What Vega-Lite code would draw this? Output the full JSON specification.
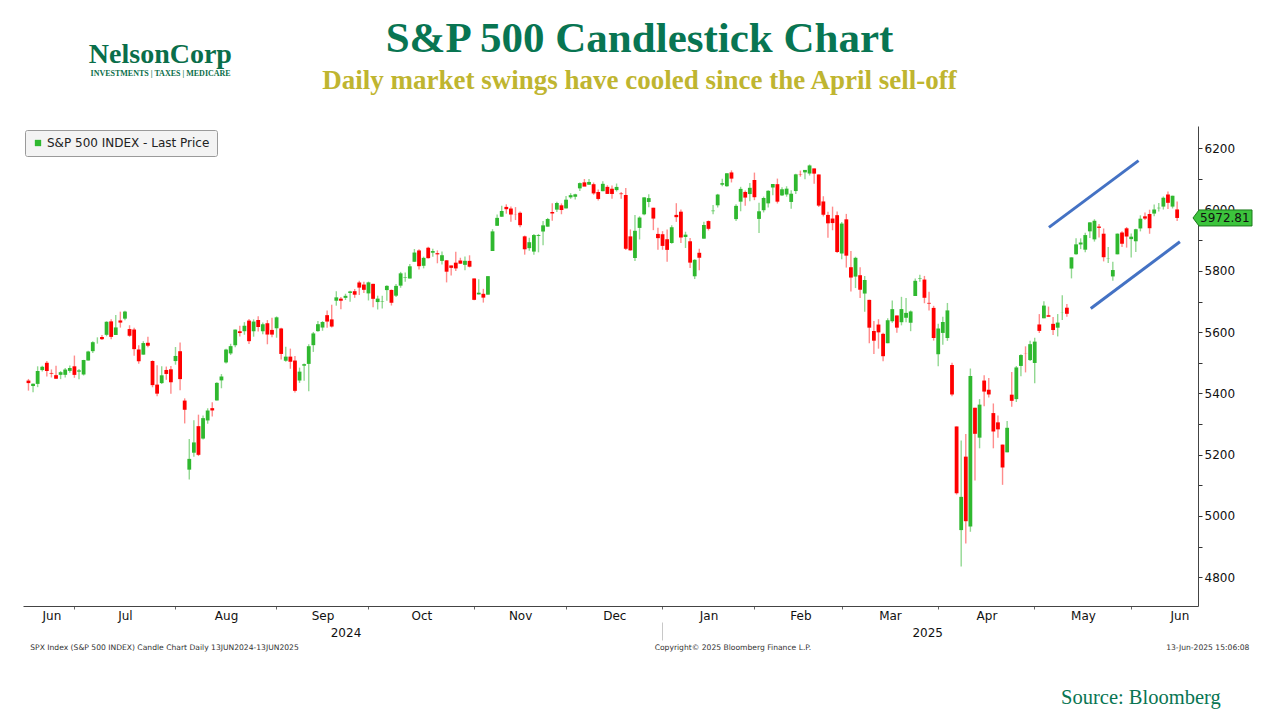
{
  "$schema": "https://vega.github.io/schema/vega-lite/v6.json",
  "autosize": {"type": "none"},
  "width": 1175,
  "height": 480,
  "padding": {"left": 23, "top": 126, "right": 82, "bottom": 114},
  "background": "white",
  "title": {
    "text": "S&P 500 Candlestick Chart",
    "subtitle": "Daily market swings have cooled since the April sell-off",
    "anchor": "middle",
    "dx": 29,
    "dy": 54,
    "offset": 0,
    "font": "Liberation Serif",
    "fontSize": 43,
    "fontWeight": "bold",
    "color": "#087552",
    "subtitleFont": "Liberation Serif",
    "subtitleFontSize": 27,
    "subtitleFontWeight": "bold",
    "subtitleColor": "#bfb530",
    "subtitlePadding": 7
  },
  "datasets": {
    "candles": [
      {"d": "2024-06-13", "i": 0, "o": 5441.9, "h": 5447.3, "l": 5409.1, "c": 5433.7},
      {"d": "2024-06-14", "i": 1, "o": 5424.1, "h": 5432.4, "l": 5403.8, "c": 5431.6},
      {"d": "2024-06-17", "i": 2, "o": 5431.1, "h": 5488.5, "l": 5420.4, "c": 5473.2},
      {"d": "2024-06-18", "i": 3, "o": 5476.2, "h": 5490.4, "l": 5471.3, "c": 5487.0},
      {"d": "2024-06-20", "i": 4, "o": 5500.0, "h": 5505.5, "l": 5455.6, "c": 5473.2},
      {"d": "2024-06-21", "i": 5, "o": 5466.8, "h": 5478.3, "l": 5452.0, "c": 5464.6},
      {"d": "2024-06-24", "i": 6, "o": 5459.6, "h": 5490.7, "l": 5447.6, "c": 5447.9},
      {"d": "2024-06-25", "i": 7, "o": 5460.7, "h": 5472.9, "l": 5446.6, "c": 5469.3},
      {"d": "2024-06-26", "i": 8, "o": 5460.7, "h": 5483.1, "l": 5451.9, "c": 5477.9},
      {"d": "2024-06-27", "i": 9, "o": 5473.6, "h": 5490.8, "l": 5467.5, "c": 5482.9},
      {"d": "2024-06-28", "i": 10, "o": 5488.5, "h": 5523.6, "l": 5451.1, "c": 5460.5},
      {"d": "2024-07-01", "i": 11, "o": 5471.1, "h": 5479.6, "l": 5446.5, "c": 5475.1},
      {"d": "2024-07-02", "i": 12, "o": 5461.8, "h": 5509.7, "l": 5458.4, "c": 5509.0},
      {"d": "2024-07-03", "i": 13, "o": 5507.4, "h": 5539.3, "l": 5507.4, "c": 5537.0},
      {"d": "2024-07-05", "i": 14, "o": 5537.9, "h": 5570.3, "l": 5531.6, "c": 5567.2},
      {"d": "2024-07-08", "i": 15, "o": 5572.8, "h": 5583.1, "l": 5562.5, "c": 5572.9},
      {"d": "2024-07-09", "i": 16, "o": 5584.2, "h": 5590.8, "l": 5574.6, "c": 5577.0},
      {"d": "2024-07-10", "i": 17, "o": 5591.3, "h": 5635.4, "l": 5586.4, "c": 5633.9},
      {"d": "2024-07-11", "i": 18, "o": 5635.2, "h": 5642.5, "l": 5576.5, "c": 5584.5},
      {"d": "2024-07-12", "i": 19, "o": 5590.8, "h": 5655.6, "l": 5590.4, "c": 5615.4},
      {"d": "2024-07-15", "i": 20, "o": 5638.2, "h": 5666.9, "l": 5614.8, "c": 5631.2},
      {"d": "2024-07-16", "i": 21, "o": 5644.1, "h": 5669.7, "l": 5639.0, "c": 5667.2},
      {"d": "2024-07-17", "i": 22, "o": 5610.1, "h": 5622.5, "l": 5584.8, "c": 5588.3},
      {"d": "2024-07-18", "i": 23, "o": 5608.6, "h": 5614.1, "l": 5522.8, "c": 5544.6},
      {"d": "2024-07-19", "i": 24, "o": 5543.4, "h": 5557.5, "l": 5497.0, "c": 5505.0},
      {"d": "2024-07-22", "i": 25, "o": 5526.6, "h": 5570.4, "l": 5526.6, "c": 5564.4},
      {"d": "2024-07-23", "i": 26, "o": 5565.3, "h": 5585.3, "l": 5550.9, "c": 5555.7},
      {"d": "2024-07-24", "i": 27, "o": 5505.8, "h": 5508.0, "l": 5420.0, "c": 5427.1},
      {"d": "2024-07-25", "i": 28, "o": 5428.7, "h": 5491.6, "l": 5391.0, "c": 5399.2},
      {"d": "2024-07-26", "i": 29, "o": 5433.7, "h": 5488.3, "l": 5430.7, "c": 5459.1},
      {"d": "2024-07-29", "i": 30, "o": 5476.6, "h": 5487.7, "l": 5444.4, "c": 5463.5},
      {"d": "2024-07-30", "i": 31, "o": 5478.7, "h": 5489.5, "l": 5398.9, "c": 5436.4},
      {"d": "2024-07-31", "i": 32, "o": 5505.6, "h": 5551.5, "l": 5493.8, "c": 5522.3},
      {"d": "2024-08-01", "i": 33, "o": 5537.8, "h": 5566.2, "l": 5410.4, "c": 5446.7},
      {"d": "2024-08-02", "i": 34, "o": 5376.6, "h": 5383.9, "l": 5302.0, "c": 5346.6},
      {"d": "2024-08-05", "i": 35, "o": 5151.1, "h": 5250.9, "l": 5119.3, "c": 5186.3},
      {"d": "2024-08-06", "i": 36, "o": 5206.4, "h": 5312.3, "l": 5193.6, "c": 5240.0},
      {"d": "2024-08-07", "i": 37, "o": 5293.1, "h": 5330.6, "l": 5195.5, "c": 5199.5},
      {"d": "2024-08-08", "i": 38, "o": 5252.6, "h": 5328.0, "l": 5249.4, "c": 5319.3},
      {"d": "2024-08-09", "i": 39, "o": 5311.8, "h": 5351.4, "l": 5300.9, "c": 5344.2},
      {"d": "2024-08-12", "i": 40, "o": 5351.9, "h": 5371.2, "l": 5324.4, "c": 5344.4},
      {"d": "2024-08-13", "i": 41, "o": 5377.0, "h": 5436.5, "l": 5377.0, "c": 5434.4},
      {"d": "2024-08-14", "i": 42, "o": 5442.5, "h": 5463.2, "l": 5416.8, "c": 5455.2},
      {"d": "2024-08-15", "i": 43, "o": 5501.1, "h": 5546.2, "l": 5497.8, "c": 5543.2},
      {"d": "2024-08-16", "i": 44, "o": 5530.5, "h": 5562.0, "l": 5525.2, "c": 5554.3},
      {"d": "2024-08-19", "i": 45, "o": 5557.2, "h": 5608.3, "l": 5550.7, "c": 5608.3},
      {"d": "2024-08-20", "i": 46, "o": 5602.9, "h": 5620.5, "l": 5585.5, "c": 5597.1},
      {"d": "2024-08-21", "i": 47, "o": 5603.1, "h": 5632.7, "l": 5591.6, "c": 5620.9},
      {"d": "2024-08-22", "i": 48, "o": 5637.8, "h": 5643.2, "l": 5561.0, "c": 5570.6},
      {"d": "2024-08-23", "i": 49, "o": 5602.9, "h": 5641.8, "l": 5585.2, "c": 5634.6},
      {"d": "2024-08-26", "i": 50, "o": 5639.7, "h": 5651.6, "l": 5602.3, "c": 5616.8},
      {"d": "2024-08-27", "i": 51, "o": 5602.9, "h": 5631.2, "l": 5593.5, "c": 5625.8},
      {"d": "2024-08-28", "i": 52, "o": 5629.1, "h": 5639.4, "l": 5560.4, "c": 5592.2},
      {"d": "2024-08-29", "i": 53, "o": 5607.3, "h": 5647.0, "l": 5583.7, "c": 5592.0},
      {"d": "2024-08-30", "i": 54, "o": 5612.7, "h": 5651.4, "l": 5581.8, "c": 5648.4},
      {"d": "2024-09-03", "i": 55, "o": 5612.0, "h": 5614.0, "l": 5511.0, "c": 5528.9},
      {"d": "2024-09-04", "i": 56, "o": 5506.7, "h": 5552.7, "l": 5503.6, "c": 5520.1},
      {"d": "2024-09-05", "i": 57, "o": 5520.1, "h": 5546.3, "l": 5480.5, "c": 5503.4},
      {"d": "2024-09-06", "i": 58, "o": 5507.3, "h": 5522.5, "l": 5402.6, "c": 5408.4},
      {"d": "2024-09-09", "i": 59, "o": 5442.1, "h": 5484.2, "l": 5434.5, "c": 5471.1},
      {"d": "2024-09-10", "i": 60, "o": 5490.5, "h": 5497.9, "l": 5441.7, "c": 5495.5},
      {"d": "2024-09-11", "i": 61, "o": 5496.4, "h": 5560.4, "l": 5407.0, "c": 5554.1},
      {"d": "2024-09-12", "i": 62, "o": 5557.5, "h": 5600.7, "l": 5535.5, "c": 5595.8},
      {"d": "2024-09-13", "i": 63, "o": 5603.3, "h": 5636.3, "l": 5601.7, "c": 5626.0},
      {"d": "2024-09-16", "i": 64, "o": 5615.1, "h": 5636.1, "l": 5604.5, "c": 5633.1},
      {"d": "2024-09-17", "i": 65, "o": 5655.5, "h": 5670.8, "l": 5614.1, "c": 5634.6},
      {"d": "2024-09-18", "i": 66, "o": 5641.7, "h": 5689.8, "l": 5615.1, "c": 5618.3},
      {"d": "2024-09-19", "i": 67, "o": 5702.6, "h": 5733.6, "l": 5686.4, "c": 5713.6},
      {"d": "2024-09-20", "i": 68, "o": 5709.3, "h": 5715.1, "l": 5674.5, "c": 5702.6},
      {"d": "2024-09-23", "i": 69, "o": 5711.9, "h": 5725.4, "l": 5704.9, "c": 5718.6},
      {"d": "2024-09-24", "i": 70, "o": 5728.0, "h": 5735.3, "l": 5699.0, "c": 5732.9},
      {"d": "2024-09-25", "i": 71, "o": 5733.7, "h": 5741.0, "l": 5712.1, "c": 5722.3},
      {"d": "2024-09-26", "i": 72, "o": 5762.2, "h": 5767.4, "l": 5721.0, "c": 5745.4},
      {"d": "2024-09-27", "i": 73, "o": 5755.4, "h": 5764.8, "l": 5727.8, "c": 5738.2},
      {"d": "2024-09-30", "i": 74, "o": 5726.5, "h": 5765.1, "l": 5703.5, "c": 5762.5},
      {"d": "2024-10-01", "i": 75, "o": 5757.7, "h": 5757.7, "l": 5681.3, "c": 5708.8},
      {"d": "2024-10-02", "i": 76, "o": 5698.2, "h": 5719.1, "l": 5674.0, "c": 5709.5},
      {"d": "2024-10-03", "i": 77, "o": 5698.6, "h": 5718.8, "l": 5677.0, "c": 5699.9},
      {"d": "2024-10-04", "i": 78, "o": 5737.3, "h": 5753.3, "l": 5702.8, "c": 5751.1},
      {"d": "2024-10-07", "i": 79, "o": 5737.8, "h": 5739.3, "l": 5686.9, "c": 5695.9},
      {"d": "2024-10-08", "i": 80, "o": 5719.1, "h": 5757.6, "l": 5714.6, "c": 5751.1},
      {"d": "2024-10-09", "i": 81, "o": 5751.8, "h": 5796.8, "l": 5745.0, "c": 5792.0},
      {"d": "2024-10-10", "i": 82, "o": 5778.4, "h": 5795.0, "l": 5764.8, "c": 5780.1},
      {"d": "2024-10-11", "i": 83, "o": 5775.1, "h": 5822.1, "l": 5775.1, "c": 5815.0},
      {"d": "2024-10-14", "i": 84, "o": 5829.8, "h": 5871.4, "l": 5829.8, "c": 5859.9},
      {"d": "2024-10-15", "i": 85, "o": 5866.7, "h": 5870.4, "l": 5804.5, "c": 5815.3},
      {"d": "2024-10-16", "i": 86, "o": 5816.6, "h": 5846.5, "l": 5808.3, "c": 5842.5},
      {"d": "2024-10-17", "i": 87, "o": 5875.6, "h": 5878.5, "l": 5840.3, "c": 5841.5},
      {"d": "2024-10-18", "i": 88, "o": 5859.4, "h": 5872.2, "l": 5846.1, "c": 5864.7},
      {"d": "2024-10-21", "i": 89, "o": 5857.8, "h": 5866.9, "l": 5824.8, "c": 5854.0},
      {"d": "2024-10-22", "i": 90, "o": 5832.7, "h": 5863.0, "l": 5821.2, "c": 5851.2},
      {"d": "2024-10-23", "i": 91, "o": 5834.5, "h": 5834.9, "l": 5762.4, "c": 5797.4},
      {"d": "2024-10-24", "i": 92, "o": 5817.8, "h": 5817.8, "l": 5784.9, "c": 5809.9},
      {"d": "2024-10-25", "i": 93, "o": 5826.8, "h": 5862.8, "l": 5800.0, "c": 5808.1},
      {"d": "2024-10-28", "i": 94, "o": 5833.9, "h": 5842.9, "l": 5823.1, "c": 5823.5},
      {"d": "2024-10-29", "i": 95, "o": 5819.7, "h": 5847.2, "l": 5802.3, "c": 5832.9},
      {"d": "2024-10-30", "i": 96, "o": 5832.7, "h": 5850.9, "l": 5811.3, "c": 5813.7},
      {"d": "2024-10-31", "i": 97, "o": 5775.3, "h": 5775.3, "l": 5703.8, "c": 5705.5},
      {"d": "2024-11-01", "i": 98, "o": 5723.2, "h": 5772.5, "l": 5723.2, "c": 5728.8},
      {"d": "2024-11-04", "i": 99, "o": 5725.2, "h": 5741.4, "l": 5696.5, "c": 5712.7},
      {"d": "2024-11-05", "i": 100, "o": 5722.4, "h": 5783.4, "l": 5722.1, "c": 5782.8},
      {"d": "2024-11-06", "i": 101, "o": 5864.9, "h": 5936.1, "l": 5864.9, "c": 5929.0},
      {"d": "2024-11-07", "i": 102, "o": 5947.2, "h": 5983.8, "l": 5947.2, "c": 5973.1},
      {"d": "2024-11-08", "i": 103, "o": 5976.8, "h": 6012.5, "l": 5976.8, "c": 5995.5},
      {"d": "2024-11-11", "i": 104, "o": 6008.9, "h": 6017.3, "l": 5986.7, "c": 6001.4},
      {"d": "2024-11-12", "i": 105, "o": 6003.6, "h": 6009.9, "l": 5960.1, "c": 5984.0},
      {"d": "2024-11-13", "i": 106, "o": 5985.8, "h": 6008.2, "l": 5965.9, "c": 5985.4},
      {"d": "2024-11-14", "i": 107, "o": 5989.7, "h": 5993.9, "l": 5942.3, "c": 5949.2},
      {"d": "2024-11-15", "i": 108, "o": 5912.8, "h": 5915.3, "l": 5853.0, "c": 5870.6},
      {"d": "2024-11-18", "i": 109, "o": 5874.2, "h": 5908.1, "l": 5866.0, "c": 5893.6},
      {"d": "2024-11-19", "i": 110, "o": 5863.0, "h": 5920.7, "l": 5853.0, "c": 5917.0},
      {"d": "2024-11-20", "i": 111, "o": 5914.2, "h": 5920.7, "l": 5860.6, "c": 5917.1},
      {"d": "2024-11-21", "i": 112, "o": 5928.5, "h": 5963.2, "l": 5883.6, "c": 5948.7},
      {"d": "2024-11-22", "i": 113, "o": 5944.4, "h": 5972.9, "l": 5944.4, "c": 5969.3},
      {"d": "2024-11-25", "i": 114, "o": 5992.3, "h": 6020.8, "l": 5963.9, "c": 5987.4},
      {"d": "2024-11-26", "i": 115, "o": 6000.0, "h": 6025.4, "l": 5992.3, "c": 6021.6},
      {"d": "2024-11-27", "i": 116, "o": 6014.1, "h": 6020.2, "l": 5984.9, "c": 5998.7},
      {"d": "2024-11-29", "i": 117, "o": 6004.0, "h": 6044.2, "l": 6004.0, "c": 6032.4},
      {"d": "2024-12-02", "i": 118, "o": 6040.1, "h": 6053.6, "l": 6035.3, "c": 6047.2},
      {"d": "2024-12-03", "i": 119, "o": 6042.0, "h": 6052.1, "l": 6033.4, "c": 6049.9},
      {"d": "2024-12-04", "i": 120, "o": 6069.4, "h": 6088.5, "l": 6061.1, "c": 6086.5},
      {"d": "2024-12-05", "i": 121, "o": 6089.0, "h": 6100.0, "l": 6080.0, "c": 6075.1},
      {"d": "2024-12-06", "i": 122, "o": 6081.4, "h": 6100.0, "l": 6080.0, "c": 6090.3},
      {"d": "2024-12-09", "i": 123, "o": 6083.0, "h": 6088.5, "l": 6048.6, "c": 6052.9},
      {"d": "2024-12-10", "i": 124, "o": 6057.6, "h": 6065.4, "l": 6029.9, "c": 6034.9},
      {"d": "2024-12-11", "i": 125, "o": 6060.2, "h": 6092.6, "l": 6060.2, "c": 6084.2},
      {"d": "2024-12-12", "i": 126, "o": 6074.3, "h": 6079.7, "l": 6051.3, "c": 6051.3},
      {"d": "2024-12-13", "i": 127, "o": 6068.2, "h": 6078.6, "l": 6035.8, "c": 6051.1},
      {"d": "2024-12-16", "i": 128, "o": 6063.8, "h": 6085.2, "l": 6059.1, "c": 6074.1},
      {"d": "2024-12-17", "i": 129, "o": 6052.6, "h": 6057.7, "l": 6035.2, "c": 6050.6},
      {"d": "2024-12-18", "i": 130, "o": 6047.7, "h": 6070.7, "l": 5867.8, "c": 5872.2},
      {"d": "2024-12-19", "i": 131, "o": 5912.7, "h": 5935.5, "l": 5866.1, "c": 5867.1},
      {"d": "2024-12-20", "i": 132, "o": 5842.0, "h": 5982.1, "l": 5832.3, "c": 5930.9},
      {"d": "2024-12-23", "i": 133, "o": 5940.3, "h": 5978.3, "l": 5902.6, "c": 5974.1},
      {"d": "2024-12-24", "i": 134, "o": 5984.6, "h": 6040.1, "l": 5981.4, "c": 6040.0},
      {"d": "2024-12-26", "i": 135, "o": 6025.0, "h": 6049.8, "l": 6007.4, "c": 6037.6},
      {"d": "2024-12-27", "i": 136, "o": 6006.2, "h": 6006.2, "l": 5933.0, "c": 5970.8},
      {"d": "2024-12-30", "i": 137, "o": 5920.7, "h": 5940.8, "l": 5869.2, "c": 5906.9},
      {"d": "2024-12-31", "i": 138, "o": 5919.7, "h": 5929.7, "l": 5868.9, "c": 5881.6},
      {"d": "2025-01-02", "i": 139, "o": 5903.3, "h": 5935.1, "l": 5829.5, "c": 5868.6},
      {"d": "2025-01-03", "i": 140, "o": 5891.1, "h": 5949.3, "l": 5888.7, "c": 5942.5},
      {"d": "2025-01-06", "i": 141, "o": 5982.8, "h": 6021.0, "l": 5960.0, "c": 5975.4},
      {"d": "2025-01-07", "i": 142, "o": 5993.3, "h": 6000.7, "l": 5890.7, "c": 5909.0},
      {"d": "2025-01-08", "i": 143, "o": 5910.7, "h": 5927.9, "l": 5874.8, "c": 5918.3},
      {"d": "2025-01-10", "i": 144, "o": 5896.7, "h": 5907.2, "l": 5809.2, "c": 5827.0},
      {"d": "2025-01-13", "i": 145, "o": 5782.4, "h": 5838.0, "l": 5773.3, "c": 5836.2},
      {"d": "2025-01-14", "i": 146, "o": 5859.1, "h": 5871.9, "l": 5801.9, "c": 5842.9},
      {"d": "2025-01-15", "i": 147, "o": 5905.2, "h": 5960.6, "l": 5905.2, "c": 5949.9},
      {"d": "2025-01-16", "i": 148, "o": 5962.6, "h": 5964.7, "l": 5932.0, "c": 5937.3},
      {"d": "2025-01-17", "i": 149, "o": 5995.0, "h": 6015.0, "l": 5984.9, "c": 5996.7},
      {"d": "2025-01-21", "i": 150, "o": 6014.1, "h": 6051.5, "l": 6006.9, "c": 6049.2},
      {"d": "2025-01-22", "i": 151, "o": 6081.4, "h": 6100.8, "l": 6076.1, "c": 6086.4},
      {"d": "2025-01-23", "i": 152, "o": 6076.3, "h": 6118.7, "l": 6074.7, "c": 6118.7},
      {"d": "2025-01-24", "i": 153, "o": 6121.4, "h": 6128.2, "l": 6088.7, "c": 6101.2},
      {"d": "2025-01-27", "i": 154, "o": 5969.0, "h": 6017.2, "l": 5962.9, "c": 6012.3},
      {"d": "2025-01-28", "i": 155, "o": 6026.0, "h": 6074.5, "l": 5994.6, "c": 6067.7},
      {"d": "2025-01-29", "i": 156, "o": 6057.7, "h": 6062.8, "l": 6013.0, "c": 6039.3},
      {"d": "2025-01-30", "i": 157, "o": 6050.8, "h": 6086.6, "l": 6027.5, "c": 6071.2},
      {"d": "2025-01-31", "i": 158, "o": 6096.8, "h": 6120.9, "l": 6030.9, "c": 6040.5},
      {"d": "2025-02-03", "i": 159, "o": 5969.7, "h": 6022.1, "l": 5923.9, "c": 5994.6},
      {"d": "2025-02-04", "i": 160, "o": 5998.1, "h": 6042.5, "l": 5990.9, "c": 6037.9},
      {"d": "2025-02-05", "i": 161, "o": 6020.5, "h": 6062.9, "l": 6007.1, "c": 6061.5},
      {"d": "2025-02-06", "i": 162, "o": 6072.2, "h": 6084.0, "l": 6046.8, "c": 6083.6},
      {"d": "2025-02-07", "i": 163, "o": 6083.1, "h": 6101.3, "l": 6020.0, "c": 6026.0},
      {"d": "2025-02-10", "i": 164, "o": 6046.4, "h": 6073.4, "l": 6044.8, "c": 6066.4},
      {"d": "2025-02-11", "i": 165, "o": 6049.3, "h": 6076.3, "l": 6042.3, "c": 6068.5},
      {"d": "2025-02-12", "i": 166, "o": 6025.1, "h": 6063.2, "l": 6003.0, "c": 6052.0},
      {"d": "2025-02-13", "i": 167, "o": 6060.6, "h": 6116.9, "l": 6051.1, "c": 6115.1},
      {"d": "2025-02-14", "i": 168, "o": 6115.5, "h": 6127.5, "l": 6107.6, "c": 6114.6},
      {"d": "2025-02-18", "i": 169, "o": 6121.6, "h": 6129.6, "l": 6099.5, "c": 6129.6},
      {"d": "2025-02-19", "i": 170, "o": 6117.8, "h": 6147.4, "l": 6111.2, "c": 6144.2},
      {"d": "2025-02-20", "i": 171, "o": 6134.5, "h": 6134.5, "l": 6084.6, "c": 6117.5},
      {"d": "2025-02-21", "i": 172, "o": 6114.8, "h": 6114.8, "l": 6008.6, "c": 6013.1},
      {"d": "2025-02-24", "i": 173, "o": 6026.7, "h": 6043.7, "l": 5977.8, "c": 5983.3},
      {"d": "2025-02-25", "i": 174, "o": 5982.7, "h": 5992.7, "l": 5908.5, "c": 5955.3},
      {"d": "2025-02-26", "i": 175, "o": 5970.9, "h": 6009.8, "l": 5932.7, "c": 5956.1},
      {"d": "2025-02-27", "i": 176, "o": 5981.9, "h": 5993.7, "l": 5858.8, "c": 5861.6},
      {"d": "2025-02-28", "i": 177, "o": 5856.7, "h": 5959.4, "l": 5837.7, "c": 5954.5},
      {"d": "2025-03-03", "i": 178, "o": 5968.3, "h": 5986.1, "l": 5810.9, "c": 5849.7},
      {"d": "2025-03-04", "i": 179, "o": 5812.0, "h": 5865.1, "l": 5732.6, "c": 5778.2},
      {"d": "2025-03-05", "i": 180, "o": 5781.4, "h": 5846.1, "l": 5743.9, "c": 5842.6},
      {"d": "2025-03-06", "i": 181, "o": 5785.9, "h": 5812.1, "l": 5711.6, "c": 5738.5},
      {"d": "2025-03-07", "i": 182, "o": 5726.0, "h": 5783.0, "l": 5666.3, "c": 5770.2},
      {"d": "2025-03-10", "i": 183, "o": 5705.4, "h": 5705.4, "l": 5564.0, "c": 5614.6},
      {"d": "2025-03-11", "i": 184, "o": 5603.7, "h": 5636.3, "l": 5528.4, "c": 5572.1},
      {"d": "2025-03-12", "i": 185, "o": 5624.8, "h": 5642.2, "l": 5546.1, "c": 5599.3},
      {"d": "2025-03-13", "i": 186, "o": 5594.5, "h": 5597.8, "l": 5504.7, "c": 5521.5},
      {"d": "2025-03-14", "i": 187, "o": 5563.9, "h": 5645.3, "l": 5563.9, "c": 5638.9},
      {"d": "2025-03-17", "i": 188, "o": 5635.6, "h": 5703.5, "l": 5631.1, "c": 5675.1},
      {"d": "2025-03-18", "i": 189, "o": 5654.5, "h": 5654.5, "l": 5597.8, "c": 5614.7},
      {"d": "2025-03-19", "i": 190, "o": 5632.4, "h": 5715.3, "l": 5622.2, "c": 5675.3},
      {"d": "2025-03-20", "i": 191, "o": 5646.9, "h": 5711.2, "l": 5632.3, "c": 5662.9},
      {"d": "2025-03-21", "i": 192, "o": 5630.7, "h": 5670.8, "l": 5603.1, "c": 5667.6},
      {"d": "2025-03-24", "i": 193, "o": 5718.1, "h": 5775.1, "l": 5718.1, "c": 5767.6},
      {"d": "2025-03-25", "i": 194, "o": 5775.1, "h": 5787.0, "l": 5764.3, "c": 5776.7},
      {"d": "2025-03-26", "i": 195, "o": 5771.7, "h": 5783.6, "l": 5694.4, "c": 5712.2},
      {"d": "2025-03-27", "i": 196, "o": 5695.6, "h": 5732.3, "l": 5670.9, "c": 5693.3},
      {"d": "2025-03-28", "i": 197, "o": 5679.2, "h": 5685.9, "l": 5572.4, "c": 5580.9},
      {"d": "2025-03-31", "i": 198, "o": 5527.9, "h": 5627.6, "l": 5488.7, "c": 5611.9},
      {"d": "2025-04-01", "i": 199, "o": 5597.5, "h": 5650.6, "l": 5558.5, "c": 5633.1},
      {"d": "2025-04-02", "i": 200, "o": 5580.8, "h": 5695.3, "l": 5571.5, "c": 5671.0},
      {"d": "2025-04-03", "i": 201, "o": 5492.7, "h": 5500.4, "l": 5390.8, "c": 5396.5},
      {"d": "2025-04-04", "i": 202, "o": 5292.1, "h": 5292.1, "l": 5069.9, "c": 5074.1},
      {"d": "2025-04-07", "i": 203, "o": 4953.8, "h": 5246.6, "l": 4835.0, "c": 5062.3},
      {"d": "2025-04-08", "i": 204, "o": 5193.6, "h": 5267.5, "l": 4910.4, "c": 4982.8},
      {"d": "2025-04-09", "i": 205, "o": 4965.3, "h": 5481.3, "l": 4948.4, "c": 5456.9},
      {"d": "2025-04-10", "i": 206, "o": 5353.2, "h": 5353.2, "l": 5115.3, "c": 5268.1},
      {"d": "2025-04-11", "i": 207, "o": 5255.6, "h": 5381.5, "l": 5220.8, "c": 5363.4},
      {"d": "2025-04-14", "i": 208, "o": 5442.0, "h": 5459.5, "l": 5358.0, "c": 5406.0},
      {"d": "2025-04-15", "i": 209, "o": 5412.0, "h": 5450.4, "l": 5386.4, "c": 5396.6},
      {"d": "2025-04-16", "i": 210, "o": 5335.8, "h": 5367.2, "l": 5220.8, "c": 5275.7},
      {"d": "2025-04-17", "i": 211, "o": 5305.5, "h": 5328.3, "l": 5255.6, "c": 5282.7},
      {"d": "2025-04-21", "i": 212, "o": 5232.9, "h": 5232.9, "l": 5101.6, "c": 5158.2},
      {"d": "2025-04-22", "i": 213, "o": 5207.7, "h": 5309.6, "l": 5207.7, "c": 5287.8},
      {"d": "2025-04-23", "i": 214, "o": 5395.9, "h": 5469.7, "l": 5356.2, "c": 5375.9},
      {"d": "2025-04-24", "i": 215, "o": 5381.4, "h": 5489.4, "l": 5372.0, "c": 5484.8},
      {"d": "2025-04-25", "i": 216, "o": 5489.7, "h": 5528.1, "l": 5455.9, "c": 5525.2},
      {"d": "2025-04-28", "i": 217, "o": 5529.2, "h": 5553.7, "l": 5468.6, "c": 5528.8},
      {"d": "2025-04-29", "i": 218, "o": 5508.9, "h": 5572.0, "l": 5505.7, "c": 5560.8},
      {"d": "2025-04-30", "i": 219, "o": 5499.4, "h": 5581.8, "l": 5433.2, "c": 5569.1},
      {"d": "2025-05-01", "i": 220, "o": 5625.1, "h": 5658.9, "l": 5597.4, "c": 5604.1},
      {"d": "2025-05-02", "i": 221, "o": 5645.3, "h": 5700.7, "l": 5645.3, "c": 5686.7},
      {"d": "2025-05-05", "i": 222, "o": 5655.3, "h": 5683.5, "l": 5651.6, "c": 5650.4},
      {"d": "2025-05-06", "i": 223, "o": 5627.1, "h": 5649.1, "l": 5590.4, "c": 5606.9},
      {"d": "2025-05-07", "i": 224, "o": 5614.6, "h": 5659.1, "l": 5586.1, "c": 5631.3},
      {"d": "2025-05-08", "i": 225, "o": 5663.5, "h": 5720.1, "l": 5640.0, "c": 5663.9},
      {"d": "2025-05-09", "i": 226, "o": 5679.8, "h": 5691.7, "l": 5650.5, "c": 5659.9},
      {"d": "2025-05-12", "i": 227, "o": 5807.6, "h": 5844.2, "l": 5775.5, "c": 5844.2},
      {"d": "2025-05-13", "i": 228, "o": 5854.3, "h": 5906.6, "l": 5852.6, "c": 5886.6},
      {"d": "2025-05-14", "i": 229, "o": 5886.2, "h": 5906.2, "l": 5871.1, "c": 5892.6},
      {"d": "2025-05-15", "i": 230, "o": 5869.2, "h": 5924.2, "l": 5861.0, "c": 5916.9},
      {"d": "2025-05-16", "i": 231, "o": 5929.1, "h": 5958.6, "l": 5907.4, "c": 5958.4},
      {"d": "2025-05-19", "i": 232, "o": 5902.9, "h": 5968.6, "l": 5895.7, "c": 5963.6},
      {"d": "2025-05-20", "i": 233, "o": 5944.7, "h": 5953.1, "l": 5909.3, "c": 5940.5},
      {"d": "2025-05-21", "i": 234, "o": 5921.4, "h": 5938.4, "l": 5830.9, "c": 5844.6},
      {"d": "2025-05-22", "i": 235, "o": 5841.3, "h": 5878.1, "l": 5825.8, "c": 5842.0},
      {"d": "2025-05-23", "i": 236, "o": 5781.9, "h": 5829.5, "l": 5767.4, "c": 5802.8},
      {"d": "2025-05-27", "i": 237, "o": 5854.1, "h": 5922.1, "l": 5854.1, "c": 5921.5},
      {"d": "2025-05-28", "i": 238, "o": 5925.3, "h": 5929.6, "l": 5878.1, "c": 5888.6},
      {"d": "2025-05-29", "i": 239, "o": 5939.0, "h": 5943.1, "l": 5875.9, "c": 5912.2},
      {"d": "2025-05-30", "i": 240, "o": 5903.7, "h": 5922.1, "l": 5843.7, "c": 5911.7},
      {"d": "2025-06-02", "i": 241, "o": 5896.7, "h": 5937.4, "l": 5861.4, "c": 5935.9},
      {"d": "2025-06-03", "i": 242, "o": 5938.6, "h": 5981.4, "l": 5929.0, "c": 5970.4},
      {"d": "2025-06-04", "i": 243, "o": 5978.1, "h": 5990.5, "l": 5966.1, "c": 5970.8},
      {"d": "2025-06-05", "i": 244, "o": 5985.7, "h": 5999.7, "l": 5921.2, "c": 5939.3},
      {"d": "2025-06-06", "i": 245, "o": 5987.1, "h": 6016.9, "l": 5978.6, "c": 6000.4},
      {"d": "2025-06-09", "i": 246, "o": 6004.6, "h": 6021.3, "l": 5994.2, "c": 6005.9},
      {"d": "2025-06-10", "i": 247, "o": 6009.9, "h": 6043.0, "l": 6000.3, "c": 6038.8},
      {"d": "2025-06-11", "i": 248, "o": 6049.4, "h": 6059.4, "l": 6002.3, "c": 6022.2},
      {"d": "2025-06-12", "i": 249, "o": 6009.9, "h": 6045.4, "l": 6003.9, "c": 6045.3},
      {"d": "2025-06-13", "i": 250, "o": 6000.6, "h": 6026.2, "l": 5963.2, "c": 5972.8}
    ],
    "channel": [
      {"seg": "upper", "i": 222.1, "p": 5942},
      {"seg": "upper", "i": 241.6, "p": 6160},
      {"seg": "lower", "i": 231.2, "p": 5677},
      {"seg": "lower", "i": 250.6, "p": 5895}
    ],
    "last": [
      {"i": 253.45, "p": 5972.81, "label": "5972.81"}
    ]
  },
  "resolve": {"axis": {"x": "independent", "y": "independent"}},
  "layer": [
    {
      "data": {"name": "candles"},
      "mark": {"type": "rule", "strokeWidth": 1.4},
      "encoding": {
        "x": {
          "field": "i",
          "type": "quantitative",
          "scale": {"domain": [-0.1, 253.45], "nice": false, "zero": false},
          "axis": {
            "orient": "bottom",
            "title": null,
            "grid": false,
            "values": [5, 9.95, 21, 31.95, 43, 53.95, 64, 73.95, 85.5, 96.95, 107, 116.95, 127.5, 137.95, 148, 157.95, 168, 176.95, 187.5, 197.95, 208.5, 218.95, 229.5, 239.95, 250.5],
            "labelExpr": "datum.value % 1 > 0.9 ? '' : datum.value < 10 ? 'Jun' : datum.value < 30 ? 'Jul' : datum.value < 50 ? 'Aug' : datum.value < 70 ? 'Sep' : datum.value < 90 ? 'Oct' : datum.value < 110 ? 'Nov' : datum.value < 130 ? 'Dec' : datum.value < 150 ? 'Jan' : datum.value < 170 ? 'Feb' : datum.value < 190 ? 'Mar' : datum.value < 210 ? 'Apr' : datum.value < 235 ? 'May' : 'Jun'",
            "domain": true,
            "domainColor": "#444444",
            "ticks": true,
            "tickSize": 3,
            "tickColor": {"condition": {"test": "datum.value % 1 > 0.9", "value": "#666666"}, "value": "transparent"},
            "labelFont": "DejaVu Sans",
            "labelFontSize": 12,
            "labelColor": "#111111",
            "labelPadding": 1,
            "labelOverlap": false,
            "labelFlush": false
          }
        },
        "y": {
          "field": "l",
          "type": "quantitative",
          "scale": {"domain": [4706, 6273], "nice": false, "zero": false},
          "axis": {
            "orient": "right",
            "title": null,
            "grid": false,
            "values": [4800, 4900, 5000, 5100, 5200, 5300, 5400, 5500, 5600, 5700, 5800, 5900, 6000, 6100, 6200],
            "format": "d",
            "labelExpr": "datum.value % 200 === 0 ? datum.label : ''",
            "domain": true,
            "domainColor": "#444444",
            "ticks": true,
            "tickColor": "#333333",
            "tickSize": 4,
            "labelFont": "DejaVu Sans",
            "labelFontSize": 12,
            "labelColor": "#111111",
            "labelPadding": 2,
            "labelOverlap": false,
            "labelFlush": false
          }
        },
        "y2": {"field": "h"},
        "color": {"condition": {"test": "datum.c >= datum.o", "value": "#92d892"}, "value": "#ff8c8c"}
      }
    },
    {
      "data": {"name": "candles"},
      "mark": {"type": "bar", "size": 3.8},
      "encoding": {
        "x": {
          "field": "i",
          "type": "quantitative",
          "scale": {"domain": [-0.1, 253.45], "nice": false, "zero": false},
          "axis": {
            "orient": "bottom",
            "title": null,
            "grid": false,
            "offset": 16,
            "values": [69, 137.95, 195.6],
            "labelExpr": "datum.value < 100 ? '2024' : datum.value > 150 ? '2025' : ''",
            "domain": false,
            "ticks": true,
            "tickSize": 18,
            "tickColor": {"condition": {"test": "datum.value > 100 && datum.value < 150", "value": "#c8c8c8"}, "value": "transparent"},
            "labelFont": "DejaVu Sans",
            "labelFontSize": 12,
            "labelColor": "#111111",
            "labelPadding": -13,
            "labelOverlap": false,
            "labelFlush": false
          }
        },
        "y": {"field": "o", "type": "quantitative", "scale": {"domain": [4706, 6273], "nice": false, "zero": false}, "axis": null},
        "y2": {"field": "c"},
        "color": {
          "condition": {"test": "datum.c < datum.o", "value": "#ff0000"},
          "datum": "S&P 500 INDEX - Last Price",
          "type": "nominal",
          "scale": {"range": ["#2fb82f"]},
          "legend": {
            "title": null,
            "orient": "none",
            "legendX": 2,
            "legendY": 4,
            "symbolType": "square",
            "symbolSize": 40,
            "symbolStrokeWidth": 0,
            "labelFont": "DejaVu Sans",
            "labelFontSize": 12,
            "labelColor": "#222222",
            "labelOffset": 3,
            "labelLimit": 400,
            "padding": 7,
            "strokeColor": "#9a9a9a",
            "fillColor": "#f3f3f3",
            "cornerRadius": 2
          }
        }
      }
    },
    {
      "data": {"name": "channel"},
      "mark": {"type": "line", "color": "#4472c4", "strokeWidth": 3, "strokeCap": "butt"},
      "encoding": {
        "x": {
          "field": "i",
          "type": "quantitative",
          "scale": {"domain": [-0.1, 253.45], "nice": false, "zero": false},
          "axis": {
            "orient": "bottom",
            "title": null,
            "grid": false,
            "values": [29.5, 153.2, 242, 247.5],
            "labelExpr": "datum.value < 50 ? 'SPX Index (S&P 500 INDEX) Candle Chart  Daily 13JUN2024-13JUN2025' : datum.value < 200 ? 'Copyright© 2025 Bloomberg Finance L.P.' : datum.value < 245 ? 'Source: Bloomberg' : '13-Jun-2025 15:06:08'",
            "domain": false,
            "ticks": false,
            "labelLimit": 0,
            "labelAlign": {"condition": {"test": "datum.value > 245", "value": "left"}, "value": "center"},
            "labelFont": {"condition": {"test": "datum.value > 240 && datum.value < 245", "value": "Liberation Serif"}, "value": "DejaVu Sans"},
            "labelFontSize": {"condition": {"test": "datum.value > 240 && datum.value < 245", "value": 20.5}, "value": 7.6},
            "labelColor": {"condition": {"test": "datum.value > 240 && datum.value < 245", "value": "#087552"}, "value": "#333333"},
            "labelPadding": {"condition": {"test": "datum.value > 240 && datum.value < 245", "value": 81}, "value": 37},
            "labelOverlap": false,
            "labelFlush": false
          }
        },
        "y": {"field": "p", "type": "quantitative", "scale": {"domain": [4706, 6273], "nice": false, "zero": false}, "axis": null},
        "detail": {"field": "seg"}
      }
    },
    {
      "data": {"name": "last"},
      "mark": {
        "type": "point",
        "shape": "M0,0 L0.12,-0.16 L1.18,-0.16 L1.18,0.16 L0.12,0.16 Z",
        "size": 10000,
        "filled": true,
        "opacity": 1,
        "fill": "#3cc43c",
        "stroke": "#1b7a1b",
        "strokeWidth": 1
      },
      "encoding": {
        "x": {
          "field": "i",
          "type": "quantitative",
          "scale": {"domain": [-0.1, 253.45], "nice": false, "zero": false},
          "axis": {
            "orient": "top",
            "title": null,
            "grid": false,
            "values": [28.6, 28.65],
            "labelExpr": "datum.value < 28.62 ? 'NelsonCorp' : 'INVESTMENTS | TAXES | MEDICARE'",
            "domain": false,
            "ticks": false,
            "tickSize": 0,
            "labelLimit": 0,
            "labelFont": "Liberation Serif",
            "labelFontWeight": "bold",
            "labelFontSize": {"condition": {"test": "datum.value < 28.62", "value": 28}, "value": 8},
            "labelColor": "#0a6e4a",
            "labelPadding": {"condition": {"test": "datum.value < 28.62", "value": 58}, "value": 49},
            "labelOverlap": false,
            "labelFlush": false
          }
        },
        "y": {"field": "p", "type": "quantitative", "scale": {"domain": [4706, 6273], "nice": false, "zero": false}, "axis": null}
      }
    },
    {
      "data": {"name": "last"},
      "mark": {"type": "text", "align": "left", "baseline": "middle", "dx": 7, "font": "DejaVu Sans", "fontSize": 12, "color": "#111111"},
      "encoding": {
        "x": {"field": "i", "type": "quantitative", "scale": {"domain": [-0.1, 253.45], "nice": false, "zero": false}, "axis": null},
        "y": {"field": "p", "type": "quantitative", "scale": {"domain": [4706, 6273], "nice": false, "zero": false}, "axis": null},
        "text": {"field": "label"}
      }
    }
  ],
  "config": {
    "view": {"stroke": null},
    "axis": {"grid": false}
  }
}
